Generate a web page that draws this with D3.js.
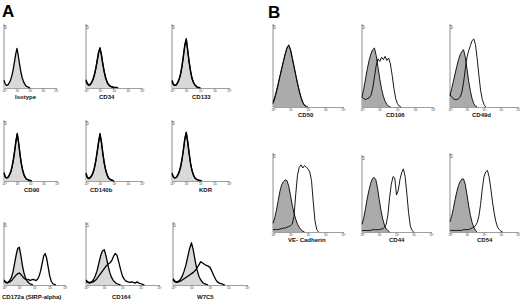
<!DOCTYPE html>
<html>
<head>
<meta charset="utf-8">
<script src="https://cdn.jsdelivr.net/npm/d3@7"></script>
<style>
body { margin: 0; background: #fff; }
svg { display: block; }
</style>
</head>
<body>
<svg id="fig" width="520" height="300"></svg>
<script>
// histogram heights in % of plot height, one value per 0.1 decade starting at 10^0
var isotype_c = [12,6,4,5,8,12,19,28,40,53,62,50,37,25,16,10,6,3,2,1,0];
var cd34_c = [13,7,5,6,9,13,20,30,42,55,62,53,39,26,17,10,6,4,2,1,0];
var cd34_s = [11,6,4,5,8,14,21,31,44,56,63,51,37,25,15,9,5,3,2,2,1,1,1,0];
var cd133_c = [12,6,4,5,8,13,21,33,49,66,77,60,42,27,16,9,5,3,1,0];
var cd133_s = [10,5,4,5,9,14,22,35,51,68,76,58,40,26,15,9,5,2,1,1,0];
var cd90_c = [14,7,5,6,9,14,22,33,47,64,78,64,46,30,19,11,6,3,2,1,0];
var cd90_s = [12,6,5,6,10,15,23,35,50,66,77,62,44,29,18,10,6,3,2,1,1,0];
var cd140b_c = [13,6,4,5,8,13,21,32,47,63,78,65,47,31,19,11,6,3,2,1,0];
var cd140b_s = [11,5,4,6,9,14,22,34,49,65,76,63,45,29,18,10,5,3,2,1,0];
var kdr_c = [13,7,5,6,9,14,22,34,50,68,80,66,47,30,18,10,6,3,2,1,0];
var kdr_s = [11,6,5,6,10,15,24,36,52,70,79,63,45,28,17,10,5,3,2,1,1,0];
var cd172a_c = [8,5,4,5,8,13,22,35,48,58,60,48,32,20,12,7,4,2,1,0];
var cd172a_s = [6,4,3,4,5,7,10,13,16,18,19,17,14,11,9,8,9,7,8,9,8,7,9,14,22,34,46,50,42,28,14,6,2,1,0];
var cd164_c = [8,5,4,5,8,14,22,34,46,54,56,46,32,20,12,7,4,2,1,0];
var cd164_s = [5,4,3,4,5,7,10,14,18,22,26,30,33,35,38,45,50,47,36,24,14,9,6,5,4,5,4,3,5,3,2,1,0];
var w7c5_c = [10,6,5,6,9,14,22,32,45,58,67,55,38,24,14,8,4,2,1,0];
var w7c5_s = [8,5,4,5,6,8,10,12,14,16,18,20,23,27,32,37,35,33,31,30,28,22,15,9,5,3,2,1,0];

var cd50_c = [6,12,20,29,38,47,56,64,71,75,68,58,48,38,28,19,11,5,2,0];
var cd50_s = [4,10,18,27,37,46,55,64,72,74,70,60,50,39,29,20,12,6,2,1,0];
var cd106_c = [12,22,34,46,56,64,69,71,62,48,34,22,13,7,3,1,0];
var cd106_s = [12,10,9,10,11,14,22,36,50,58,55,60,57,61,56,59,52,38,22,10,4,1,0];
var cd49d_c = [14,22,31,40,49,57,63,67,69,60,46,31,19,10,4,1,0];
var cd49d_s = [15,12,10,9,9,10,12,18,30,46,60,68,74,80,82,75,58,38,20,9,3,0];
var vecad_c = [11,18,28,40,52,60,64,66,65,58,46,34,24,16,10,6,3,1,0];
var vecad_s = [3,3,3,3,4,4,5,5,6,7,8,10,20,48,72,82,85,81,84,82,80,76,65,38,14,3,0];
var cd44_c = [10,18,30,43,54,63,69,71,68,57,42,28,17,9,4,2,0];
var cd44_s = [2,2,2,2,2,2,3,3,3,3,3,4,4,6,10,22,45,62,72,70,48,54,68,77,82,72,50,25,8,2,0];
var cd54_c = [13,20,30,41,51,59,64,67,67,60,47,33,21,12,6,2,0];
var cd54_s = [2,2,2,2,2,2,2,2,3,3,3,3,4,5,6,8,12,20,35,55,70,76,78,70,55,38,24,13,6,3,1,0];

var decades = [0, 1, 2, 3, 4];
var tick_labels = ["10\u2070", "10\u00b9", "10\u00b2", "10\u00b3", "10\u2074"];

var panelA = [
  {label: "Isotype", ctrl: isotype_c, stain: null},
  {label: "CD34", ctrl: cd34_c, stain: cd34_s},
  {label: "CD133", ctrl: cd133_c, stain: cd133_s},
  {label: "CD90", ctrl: cd90_c, stain: cd90_s},
  {label: "CD140b", ctrl: cd140b_c, stain: cd140b_s},
  {label: "KDR", ctrl: kdr_c, stain: kdr_s},
  {label: "CD172a (SIRP-alpha)", ctrl: cd172a_c, stain: cd172a_s},
  {label: "CD164", ctrl: cd164_c, stain: cd164_s},
  {label: "W7C5", ctrl: w7c5_c, stain: w7c5_s}
];
var panelB = [
  {label: "CD50", ctrl: cd50_c, stain: cd50_s},
  {label: "CD106", ctrl: cd106_c, stain: cd106_s},
  {label: "CD49d", ctrl: cd49d_c, stain: cd49d_s},
  {label: "VE- Cadherin", ctrl: vecad_c, stain: vecad_s},
  {label: "CD44", ctrl: cd44_c, stain: cd44_s},
  {label: "CD54", ctrl: cd54_c, stain: cd54_s}
];

// frame of each plot: [x0, x1, yTop, yBase, labelX, labelY]
var frameA = [
  [4, 56, 24, 88, 15, 98.5], [86, 142, 24, 88, 99, 98.5], [172, 229, 24, 88, 192, 98.5],
  [4, 57, 120, 181, 24, 191.5], [86, 142, 120, 181, 90, 191.5], [172, 229, 120, 181, 199, 191.5],
  [4, 65, 222, 285, 2, 299], [86, 159, 222, 285, 112, 299], [173, 247, 222, 285, 197, 299]
];
var frameB = [
  [273, 343, 24, 107, 298, 116.5], [362, 433, 24, 107, 386, 116.5], [450, 518, 24, 107, 472, 116.5],
  [273, 343, 153, 232, 288, 242], [362, 431, 155, 232, 389, 242], [450, 518, 153, 232, 477, 242]
];

var svg = d3.select("#fig");

function drawPlot(p, f, fillColor, lw) {
  var x = d3.scaleLinear().domain([0, 4]).range([f[0], f[1]]);
  var y = d3.scaleLinear().domain([0, 100]).range([f[3], f[2]]);
  var g = svg.append("g");

  var area = d3.area()
      .x(function(d, i) { return x(i / 10); })
      .y0(y(0))
      .y1(function(d) { return y(d); });
  var line = d3.line()
      .x(function(d, i) { return x(i / 10); })
      .y(function(d) { return y(d); });

  // axes
  var xAxis = d3.axisBottom(x)
      .tickValues(decades)
      .tickSize(1.5)
      .tickFormat(function(d, i) { return tick_labels[i]; });
  var ax = g.append("g").attr("transform", "translate(0," + f[3] + ")").call(xAxis);
  ax.select(".domain").attr("stroke", "#888").attr("stroke-width", 0.8);
  ax.selectAll(".tick line").attr("stroke", "#888").attr("stroke-width", 0.6);
  ax.selectAll(".tick text")
      .attr("y", 1.8)
      .attr("font-size", "2.8px")
      .attr("font-family", "Liberation Sans, Arial, sans-serif")
      .attr("fill", "#333");

  g.append("line")
      .attr("x1", f[0]).attr("x2", f[0])
      .attr("y1", f[2]).attr("y2", f[3])
      .attr("stroke", "#8c8c8c")
      .attr("stroke-width", 1);
  g.append("text")
      .attr("x", f[0] + 1.5).attr("y", f[2] + 4.5)
      .attr("text-anchor", "middle")
      .attr("font-size", "5px")
      .attr("font-family", "Liberation Sans, Arial, sans-serif")
      .attr("fill", "#555")
      .text("5");

  // filled control histogram
  g.append("path").datum(p.ctrl)
      .attr("d", area)
      .attr("fill", fillColor);
  if (p.stain) {
    g.append("path").datum(p.stain)
        .attr("d", line)
        .attr("fill", "none")
        .attr("stroke", "#000")
        .attr("stroke-width", lw)
        .attr("stroke-linejoin", "round");
  }
  g.append("path").datum(p.ctrl)
      .attr("d", line)
      .attr("fill", "none")
      .attr("stroke", "#000")
      .attr("stroke-width", lw)
      .attr("stroke-linejoin", "round");

  g.append("text")
      .attr("x", f[4]).attr("y", f[5])
      .attr("font-size", "6px")
      .attr("font-weight", "bold")
      .attr("font-family", "Liberation Sans, Arial, sans-serif")
      .attr("fill", "#111")
      .text(p.label);
}

panelA.forEach(function(p, i) { drawPlot(p, frameA[i], "#d9d9d9", 1.3); });
panelB.forEach(function(p, i) { drawPlot(p, frameB[i], "#ababab", 0.9); });

svg.append("text").attr("x", 2).attr("y", 17)
    .attr("font-size", "17px").attr("font-weight", "bold")
    .attr("font-family", "Liberation Sans, Arial, sans-serif")
    .text("A");
svg.append("text").attr("x", 268).attr("y", 18)
    .attr("font-size", "17px").attr("font-weight", "bold")
    .attr("font-family", "Liberation Sans, Arial, sans-serif")
    .text("B");
</script>
</body>
</html>
